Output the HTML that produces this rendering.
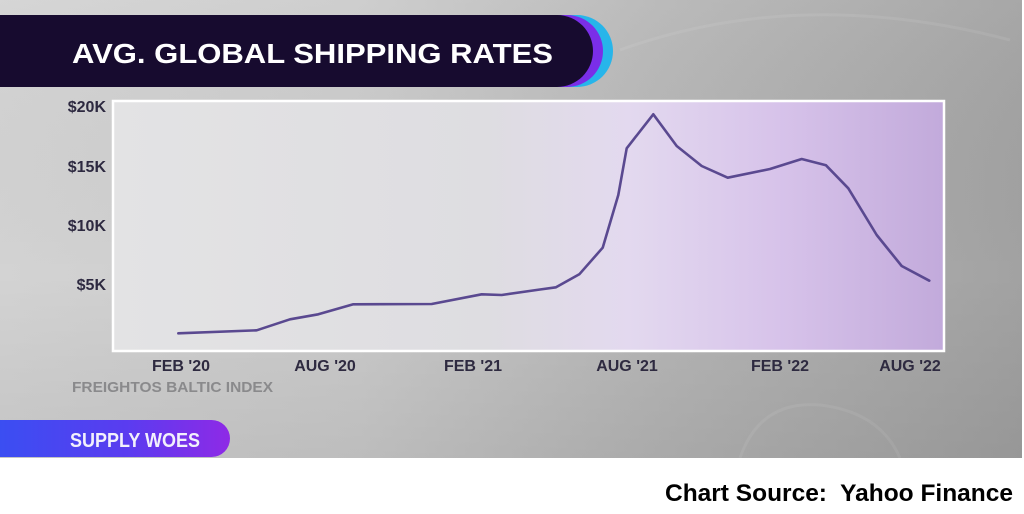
<!DOCTYPE html>
<html>
<head>
<meta charset="utf-8">
<style>
  html, body { margin: 0; padding: 0; background: #ffffff; }
  body { width: 1024px; height: 514px; overflow: hidden; }
  svg { display: block; }
  text { font-family: "Liberation Sans", "DejaVu Sans", sans-serif; font-weight: bold; white-space: pre; }
</style>
</head>
<body>
<svg width="1024" height="514" viewBox="0 0 1024 514" xmlns="http://www.w3.org/2000/svg">
  <defs>
    <linearGradient id="bg" x1="0" y1="0" x2="1" y2="0">
      <stop offset="0" stop-color="#d3d3d3"/>
      <stop offset="0.35" stop-color="#cbcbcb"/>
      <stop offset="0.65" stop-color="#b6b6b6"/>
      <stop offset="1" stop-color="#a2a2a2"/>
    </linearGradient>
    <linearGradient id="bgv" x1="0" y1="0" x2="0" y2="1">
      <stop offset="0" stop-color="#ffffff" stop-opacity="0.06"/>
      <stop offset="0.6" stop-color="#000000" stop-opacity="0"/>
      <stop offset="1" stop-color="#000000" stop-opacity="0.07"/>
    </linearGradient>
    <linearGradient id="plot" x1="113" y1="0" x2="944" y2="0" gradientUnits="userSpaceOnUse">
      <stop offset="0" stop-color="#e3e3e4"/>
      <stop offset="0.45" stop-color="#dedde1"/>
      <stop offset="0.62" stop-color="#e3d9ef"/>
      <stop offset="0.8" stop-color="#d7c3ea"/>
      <stop offset="1" stop-color="#c2aadb"/>
    </linearGradient>
    <linearGradient id="pill" x1="0" y1="0" x2="1" y2="0">
      <stop offset="0" stop-color="#3b4ef2"/>
      <stop offset="0.55" stop-color="#5a3cf0"/>
      <stop offset="1" stop-color="#8e2ae6"/>
    </linearGradient>
  </defs>

  <!-- background -->
  <rect x="0" y="0" width="1024" height="514" fill="#ffffff"/>
  <rect x="0" y="0" width="1022" height="458" fill="url(#bg)"/>
  <rect x="0" y="0" width="1022" height="458" fill="url(#bgv)"/>
  <!-- faint arcs -->
  <path d="M 620 50 Q 800 -15 1010 40" fill="none" stroke="#ffffff" stroke-opacity="0.08" stroke-width="3"/>
  <path d="M 740 458 Q 760 400 820 405 Q 880 412 900 458" fill="none" stroke="#ffffff" stroke-opacity="0.07" stroke-width="3"/>

  <!-- title bar -->
  <path d="M 0 15 L 577 15 A 36 36 0 0 1 577 87 L 0 87 Z" fill="#27b5ea"/>
  <path d="M 0 15 L 567 15 A 36 36 0 0 1 567 87 L 0 87 Z" fill="#7a2ee8"/>
  <path d="M 0 15 L 557 15 A 36 36 0 0 1 557 87 L 0 87 Z" fill="#170b2f"/>
  <text x="72" y="63" font-size="28" fill="#ffffff" textLength="481" lengthAdjust="spacingAndGlyphs">AVG. GLOBAL SHIPPING RATES</text>

  <!-- plot area -->
  <rect x="113" y="101" width="831" height="250" fill="url(#plot)" stroke="#ffffff" stroke-width="2.5"/>

  <!-- y labels -->
  <g font-size="16" fill="#2d2940" text-anchor="end">
    <text x="106" y="112">$20K</text>
    <text x="106" y="172">$15K</text>
    <text x="106" y="231">$10K</text>
    <text x="106" y="290">$5K</text>
  </g>

  <!-- x labels -->
  <g font-size="16" fill="#2e2a40" text-anchor="middle">
    <text x="181" y="371">FEB '20</text>
    <text x="325" y="371">AUG '20</text>
    <text x="473" y="371">FEB '21</text>
    <text x="627" y="371">AUG '21</text>
    <text x="780" y="371">FEB '22</text>
    <text x="910" y="371">AUG '22</text>
  </g>

  <text x="72" y="392" font-size="15" fill="#8a8a8c" textLength="201" lengthAdjust="spacingAndGlyphs">FREIGHTOS BALTIC INDEX</text>

  <!-- series line -->
  <polyline fill="none" stroke="#5a4990" stroke-width="2.6" stroke-linejoin="round" stroke-linecap="round"
    points="178.3,333.3 256.7,330.3 290,319.3 318.3,314.3 353.3,304.3 431.7,304 481.7,294.3 501.7,295 540,289.5 556,287.3 579.3,274.3 602.7,247.7 618.3,195 626.7,148.3 653.3,114.3 676.7,146 701.7,166 727.7,177.7 770,169 801.7,159 826,165.3 848.3,188.3 876.7,235 901.7,266 929.3,280.7"/>

  <!-- supply woes pill -->
  <path d="M 0 420 L 211.5 420 A 18.5 18.5 0 0 1 211.5 457 L 0 457 Z" fill="url(#pill)"/>
  <text x="70" y="447" font-size="20" fill="#f2f0fc" textLength="130" lengthAdjust="spacingAndGlyphs">SUPPLY WOES</text>

  <!-- source -->
  <text x="665" y="501" font-size="24" fill="#000000" textLength="348" lengthAdjust="spacingAndGlyphs" xml:space="preserve">Chart Source:  Yahoo Finance</text>
</svg>
</body>
</html>
